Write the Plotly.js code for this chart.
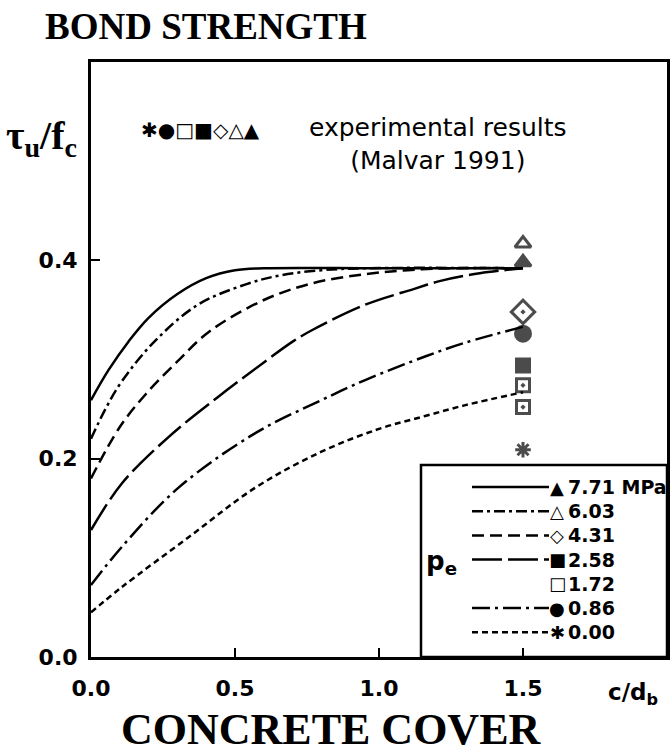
<!DOCTYPE html>
<html><head><meta charset="utf-8">
<script src="https://cdn.plot.ly/plotly-3.0.1.min.js"></script>
<style>html,body{margin:0;padding:0;background:#fff}</style>
</head><body><div id="chart" style="width:672px;height:756px"></div>
<script>
// ---- data ----
const seriesNames = ['7.71 MPa', '6.03', '4.31', '2.58', '1.72', '0.86', '0.00'];
const cover771 = [0, 0.06, 0.13, 0.2, 0.3, 0.4, 0.5, 0.6, 1.0, 1.5];
const tau771   = [0.259, 0.289, 0.318, 0.342, 0.366, 0.382, 0.390, 0.392, 0.392, 0.392];
const cover603 = [0, 0.05, 0.107, 0.22, 0.37, 0.54, 0.66, 0.8, 0.95, 1.5];
const tau603   = [0.220, 0.250, 0.278, 0.318, 0.355, 0.376, 0.385, 0.390, 0.392, 0.392];
const cover431 = [0, 0.1, 0.19, 0.3, 0.41, 0.6, 0.77, 0.95, 1.1, 1.25, 1.5];
const tau431   = [0.180, 0.232, 0.265, 0.298, 0.328, 0.360, 0.377, 0.386, 0.390, 0.392, 0.392];
const cover258 = [0, 0.107, 0.27, 0.44, 0.6, 0.7, 0.77, 0.95, 1.12, 1.21, 1.35, 1.5];
const tau258   = [0.128, 0.175, 0.222, 0.262, 0.297, 0.318, 0.330, 0.355, 0.371, 0.379, 0.387, 0.392];
const cover086 = [0, 0.107, 0.305, 0.572, 0.8, 0.95, 1.16, 1.3, 1.5];
const tau086   = [0.0725, 0.111, 0.171, 0.226, 0.259, 0.279, 0.303, 0.317, 0.333];
const cover000 = [0, 0.107, 0.34, 0.572, 0.8, 1.0, 1.16, 1.3, 1.5];
const tau000   = [0.045, 0.0705, 0.121, 0.171, 0.207, 0.230, 0.243, 0.254, 0.267];
// experimental results (Malvar 1991)
const expSeries = ['6.03', '7.71 MPa', '4.31', '0.86', '2.58', '1.72', '1.72', '0.00'];
const expCover  = [1.5, 1.5, 1.5, 1.5, 1.5, 1.5, 1.5, 1.5];
const expTau    = [0.417, 0.398, 0.348, 0.326, 0.294, 0.274, 0.252, 0.209];
const xTickVals = [0, 0.5, 1, 1.5];
const xTickText = ['0.0', '0.5', '1.0', '1.5'];
const yTickVals = [0, 0.2, 0.4];
const yTickText = ['0.0', '0.2', '0.4'];

// ---- styles ----
const curveData = {
  '7.71 MPa': [cover771, tau771],
  '6.03': [cover603, tau603],
  '4.31': [cover431, tau431],
  '2.58': [cover258, tau258],
  '0.86': [cover086, tau086],
  '0.00': [cover000, tau000]
};
const dashes = {
  '7.71 MPa': 'solid',
  '6.03': '11px,4px,3px,4px',
  '4.31': '12px,6px',
  '2.58': '30px,6px',
  '0.86': '18px,5px,3px,5px',
  '0.00': '6px,4px'
};
const symbols = {
  '7.71 MPa': ['triangle-up', 14], '6.03': ['triangle-up-open', 14], '4.31': ['diamond-open-dot', 18],
  '2.58': ['square', 13], '1.72': ['square-open-dot', 13], '0.86': ['circle', 15], '0.00': ['asterisk-open', 13]
};
const glyphs = {'7.71 MPa': '▲', '6.03': '△', '4.31': '◇', '2.58': '■', '1.72': '□', '0.86': '●', '0.00': '✱'};

const traces = [];
Object.keys(curveData).forEach(name => {
  traces.push({
    type: 'scatter', mode: 'lines', name: name,
    x: curveData[name][0], y: curveData[name][1],
    line: {color: '#000', width: 2.5, dash: dashes[name], shape: 'spline', smoothing: 1},
    showlegend: false, hoverinfo: 'skip'
  });
});
traces.push({
  type: 'scatter', mode: 'markers', name: 'experimental results (Malvar 1991)',
  x: expCover, y: expTau,
  marker: {
    symbol: expSeries.map(s => symbols[s][0]),
    size: expSeries.map(s => symbols[s][1]),
    color: '#000', line: {color: '#000', width: 3}
  },
  showlegend: false, cliponaxis: false
});

// pixel -> paper helpers (plot area 91..667 x 62..657)
const L = 91, R = 667, T = 62, B = 657;
const px = X => (X - L) / (R - L);
const py = Y => (B - Y) / (B - T);

const serif = 'Liberation Serif, Times New Roman, serif';
const sans = 'DejaVu Sans, Verdana, sans-serif';

const annotations = [
  {text: 'BOND STRENGTH', x: px(43), y: py(27), xanchor: 'left', yanchor: 'middle',
   font: {family: serif, size: 37, weight: 'bold', color: '#000'}},
  {text: 'τ<sub>u</sub>/f<sub>c</sub>', x: px(4), y: py(138), xanchor: 'left', yanchor: 'middle',
   font: {family: serif, size: 40, weight: 'bold', color: '#000'}},
  {text: '✱●□■◇△▲', x: px(139), y: py(130), xanchor: 'left', yanchor: 'middle',
   font: {family: sans, size: 20, color: '#000'}},
  {text: 'experimental results<br>(Malvar 1991)', x: px(438), y: py(144), xanchor: 'center', yanchor: 'middle',
   align: 'center', font: {family: sans, size: 25, color: '#000'}},
  {text: 'CONCRETE COVER', x: px(331), y: py(729), xanchor: 'center', yanchor: 'middle',
   font: {family: serif, size: 44, weight: 'bold', color: '#000'}},
  {text: 'c/d<sub>b</sub>', x: px(606), y: py(694), xanchor: 'left', yanchor: 'middle',
   font: {family: sans, size: 23, weight: 'bold', color: '#000'}},
  {text: 'p<sub>e</sub>', x: px(424), y: py(562), xanchor: 'left', yanchor: 'middle',
   font: {family: sans, size: 26, weight: 'bold', color: '#000'}}
];
const shapes = [
  {type: 'rect', xref: 'paper', yref: 'paper', x0: px(421), x1: px(667), y0: py(657), y1: py(465),
   line: {color: '#000', width: 2.5}, fillcolor: 'rgba(0,0,0,0)'}
];
seriesNames.forEach((name, i) => {
  const Y = 487 + i * 24.2;
  if (dashes[name]) {
    shapes.push({type: 'line', xref: 'paper', yref: 'paper', x0: px(472), x1: px(549), y0: py(Y), y1: py(Y),
      line: {color: '#000', width: 2.5, dash: dashes[name]}});
  }
  annotations.push({text: glyphs[name], x: px(557), y: py(Y), xanchor: 'center', yanchor: 'middle',
    font: {family: sans, size: 18, color: '#000'}});
  annotations.push({text: name, x: px(566), y: py(Y), xanchor: 'left', yanchor: 'middle',
    font: {family: sans, size: 19, weight: 'bold', color: '#000'}});
});
annotations.forEach(a => { a.xref = 'paper'; a.yref = 'paper'; a.showarrow = false; });

const axisCommon = {
  showline: true, mirror: true, linewidth: 3, linecolor: '#000',
  ticks: 'inside', ticklen: 9, tickwidth: 2, tickcolor: '#000',
  showgrid: false, zeroline: false,
  tickfont: {family: sans, size: 22, weight: 'bold', color: '#000'}
};
const layout = {
  width: 672, height: 756,
  margin: {l: L, r: 672 - R, t: T, b: 756 - B},
  paper_bgcolor: '#fff', plot_bgcolor: '#fff',
  xaxis: Object.assign({}, axisCommon, {range: [0, 2], tickvals: xTickVals, ticktext: xTickText, ticklabelstandoff: 10}),
  yaxis: Object.assign({}, axisCommon, {range: [0, 0.6], tickvals: yTickVals, ticktext: yTickText, ticklabelstandoff: 6}),
  showlegend: false,
  annotations: annotations,
  shapes: shapes
};
Plotly.newPlot('chart', traces, layout, {displayModeBar: false, staticPlot: true});
</script>
</body></html>
